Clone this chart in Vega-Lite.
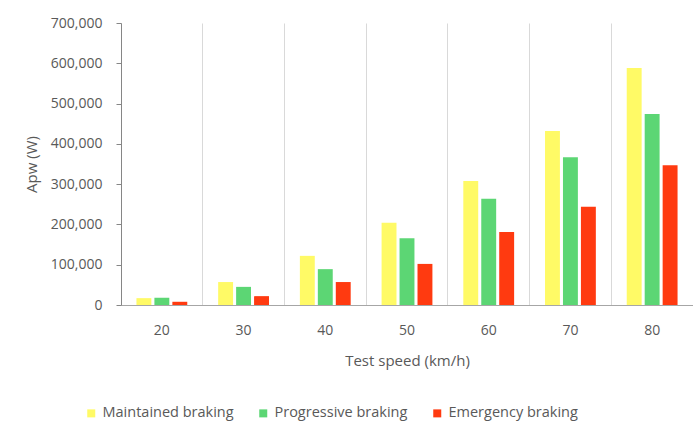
{
  "$schema": "https://vega.github.io/schema/vega-lite/v6.json",
  "width": 572,
  "height": 282,
  "autosize": {"type": "none"},
  "padding": {"left": 121, "top": 23, "right": 0, "bottom": 120},
  "background": "white",
  "config": {
    "font": "Open Sans",
    "view": {"stroke": null}
  },
  "data": {
    "values": [
      {"speed": "20", "type": "Maintained braking", "value": 17000},
      {"speed": "20", "type": "Progressive braking", "value": 18000},
      {"speed": "20", "type": "Emergency braking", "value": 8000},
      {"speed": "30", "type": "Maintained braking", "value": 57000},
      {"speed": "30", "type": "Progressive braking", "value": 45000},
      {"speed": "30", "type": "Emergency braking", "value": 22000},
      {"speed": "40", "type": "Maintained braking", "value": 122000},
      {"speed": "40", "type": "Progressive braking", "value": 89000},
      {"speed": "40", "type": "Emergency braking", "value": 57000},
      {"speed": "50", "type": "Maintained braking", "value": 204000},
      {"speed": "50", "type": "Progressive braking", "value": 166000},
      {"speed": "50", "type": "Emergency braking", "value": 102000},
      {"speed": "60", "type": "Maintained braking", "value": 308000},
      {"speed": "60", "type": "Progressive braking", "value": 264000},
      {"speed": "60", "type": "Emergency braking", "value": 181000},
      {"speed": "70", "type": "Maintained braking", "value": 432000},
      {"speed": "70", "type": "Progressive braking", "value": 367000},
      {"speed": "70", "type": "Emergency braking", "value": 244000},
      {"speed": "80", "type": "Maintained braking", "value": 588000},
      {"speed": "80", "type": "Progressive braking", "value": 474000},
      {"speed": "80", "type": "Emergency braking", "value": 347000}
    ]
  },
  "mark": {"type": "bar"},
  "encoding": {
    "x": {
      "field": "speed",
      "type": "ordinal",
      "scale": {"paddingInner": 0, "paddingOuter": 0},
      "axis": {
        "title": "Test speed (km/h)",
        "labelAngle": 0,
        "labelFontSize": 14,
        "labelColor": "#595959",
        "labelPadding": 18,
        "ticks": false,
        "tickSize": 0,
        "grid": true,
        "bandPosition": 0,
        "gridColor": "#D9D9D9",
        "domainColor": "#A6A6A6",
        "titleFontSize": 15,
        "titleFontWeight": "normal",
        "titleColor": "#595959",
        "titlePadding": 16
      }
    },
    "xOffset": {
      "field": "type",
      "type": "nominal",
      "sort": ["Maintained braking", "Progressive braking", "Emergency braking"],
      "scale": {"paddingInner": 0.17, "paddingOuter": 0.86}
    },
    "y": {
      "field": "value",
      "type": "quantitative",
      "scale": {"domain": [0, 700000]},
      "axis": {
        "title": "Apw (W)",
        "format": ",.0f",
        "values": [0, 100000, 200000, 300000, 400000, 500000, 600000, 700000],
        "labelOverlap": false,
        "grid": false,
        "labelFontSize": 14,
        "labelColor": "#595959",
        "labelPadding": 14,
        "tickSize": 5,
        "tickColor": "#868686",
        "domainColor": "#868686",
        "titleFontSize": 15,
        "titleFontWeight": "normal",
        "titleColor": "#595959",
        "titleX": -82
      }
    },
    "color": {
      "field": "type",
      "type": "nominal",
      "sort": ["Maintained braking", "Progressive braking", "Emergency braking"],
      "scale": {
        "domain": ["Maintained braking", "Progressive braking", "Emergency braking"],
        "range": ["#FFFA66", "#5CD674", "#FF3A10"]
      },
      "legend": {
        "title": null,
        "orient": "none",
        "direction": "horizontal",
        "legendX": -37,
        "legendY": 383,
        "symbolType": "square",
        "symbolSize": 64,
        "symbolStrokeWidth": 0,
        "labelFontSize": 14.5,
        "labelColor": "#595959",
        "labelOffset": 4,
        "columnPadding": 22
      }
    }
  }
}
